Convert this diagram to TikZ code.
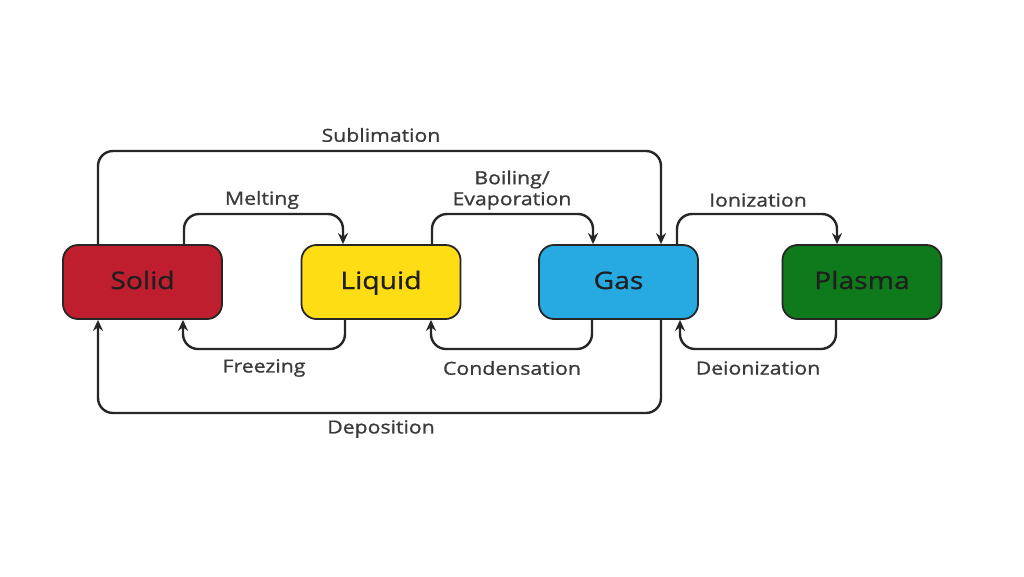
\documentclass[tikz,border=0pt]{standalone}
\usepackage{fontspec}
\setmainfont{Open Sans}[FakeStretch=1.18,FakeBold=1]
\usetikzlibrary{arrows.meta}
\definecolor{cSolid}{HTML}{BE1E2D}
\definecolor{cLiquid}{HTML}{FFDD15}
\definecolor{cGas}{HTML}{27AAE1}
\definecolor{cPlasma}{HTML}{0E7A1B}
\definecolor{cText}{HTML}{3A3A3A}
\begin{document}
\begin{tikzpicture}[x=1pt,y=-1pt,
  state/.style={draw=black!85, line width=1.8pt, rounded corners=15pt, minimum width=159pt, minimum height=74pt, inner sep=0pt, font=\fontsize{24}{26}\selectfont, text=black!88, text height=17pt, text depth=3pt},
  conn/.style={draw=black!85, line width=2.4pt, rounded corners=15pt, -{Stealth[length=11pt,width=10pt]}},
  lbl/.style={font=\fontsize{18}{21}\selectfont, text=cText, inner sep=0pt, align=center}]
\useasboundingbox[fill=white] (0,0) rectangle (1024,576);
\node[state, fill=cSolid] (solid) at (142.5,282) {Solid};
\node[state, fill=cLiquid] (liquid) at (381,282) {Liquid};
\node[state, fill=cGas] (gas) at (618.5,282) {Gas};
\node[state, fill=cPlasma] (plasma) at (862,282) {Plasma};
% levels
\coordinate (ysub) at (0,151);
\coordinate (ytop) at (0,214);
\coordinate (ybot) at (0,349);
\coordinate (ydep) at (0,413);
% end points
\coordinate (subA) at ([xshift=-44.5pt]solid.north);
\coordinate (subB) at ([xshift=42.5pt]gas.north);
\coordinate (meltA) at ([xshift=41.5pt]solid.north);
\coordinate (meltB) at ([xshift=-38pt]liquid.north);
\coordinate (boilA) at ([xshift=51pt]liquid.north);
\coordinate (boilB) at ([xshift=-25.5pt]gas.north);
\coordinate (ionA) at ([xshift=58.5pt]gas.north);
\coordinate (ionB) at ([xshift=-25pt]plasma.north);
\coordinate (frzA) at ([xshift=-36pt]liquid.south);
\coordinate (frzB) at ([xshift=40.5pt]solid.south);
\coordinate (conA) at ([xshift=-26.5pt]gas.south);
\coordinate (conB) at ([xshift=50pt]liquid.south);
\coordinate (deiA) at ([xshift=-26pt]plasma.south);
\coordinate (deiB) at ([xshift=61.5pt]gas.south);
\coordinate (depA) at ([xshift=42.5pt]gas.south);
\coordinate (depB) at ([xshift=-44.5pt]solid.south);
% connectors
\draw[conn] (subA) -- (subA |- ysub) -- (subB |- ysub) -- (subB);
\draw[conn] (meltA) -- (meltA |- ytop) -- (meltB |- ytop) -- (meltB);
\draw[conn] (boilA) -- (boilA |- ytop) -- (boilB |- ytop) -- (boilB);
\draw[conn] (ionA) -- (ionA |- ytop) -- (ionB |- ytop) -- (ionB);
\draw[conn] (frzA) -- (frzA |- ybot) -- (frzB |- ybot) -- (frzB);
\draw[conn] (conA) -- (conA |- ybot) -- (conB |- ybot) -- (conB);
\draw[conn] (deiA) -- (deiA |- ybot) -- (deiB |- ybot) -- (deiB);
\draw[conn] (depA) -- (depA |- ydep) -- (depB |- ydep) -- (depB);
% labels
\node[lbl] (lsub) at (381,135) {Sublimation};
\node[lbl] (lmelt) at (262,200) {Melting};
\node[lbl] (lboil) at (512,190) {Boiling/\\Evaporation};
\node[lbl] (lion) at (758,200) {Ionization};
\node[lbl] (lfreeze) at (264,368) {Freezing};
\node[lbl] (lcond) at (512,368) {Condensation};
\node[lbl] (ldeion) at (758,368) {Deionization};
\node[lbl] (ldep) at (381,429) {Deposition};
\end{tikzpicture}
\end{document}
